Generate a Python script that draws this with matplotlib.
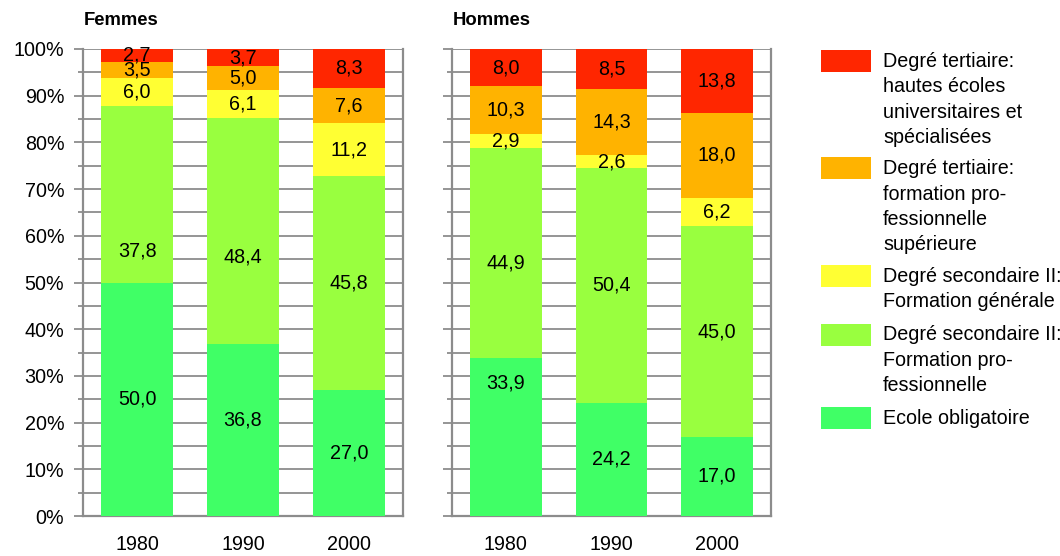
import numpy as np
import matplotlib.pyplot as plt
from matplotlib.patches import Rectangle

plt.rcParams['font.family'] = ['Liberation Sans', 'DejaVu Sans']

# data (bottom to top in each bar)
years = ['1980', '1990', '2000']
series = [
    'Ecole obligatoire',
    'Degré secondaire II:\nFormation pro-\nfessionnelle',
    'Degré secondaire II:\nFormation générale',
    'Degré tertiaire:\nformation pro-\nfessionnelle\nsupérieure',
    'Degré tertiaire:\nhautes écoles\nuniversitaires et\nspécialisées',
]
femmes_ecole = [50.0, 36.8, 27.0]
femmes_sec_prof = [37.8, 48.4, 45.8]
femmes_sec_gen = [6.0, 6.1, 11.2]
femmes_tert_prof = [3.5, 5.0, 7.6]
femmes_tert_univ = [2.7, 3.7, 8.3]

hommes_ecole = [33.9, 24.2, 17.0]
hommes_sec_prof = [44.9, 50.4, 45.0]
hommes_sec_gen = [2.9, 2.6, 6.2]
hommes_tert_prof = [10.3, 14.3, 18.0]
hommes_tert_univ = [8.0, 8.5, 13.8]

colors = ['#40ff66', '#99ff3f', '#ffff33', '#ffb300', '#ff2600']

# some labels in the original were moved off-centre (percentage points)
label_nudge = {
    ('F', 0, 1): -12.2,
    ('F', 1, 1): -5.5,
    ('F', 1, 0): 2.2,
    ('H', 0, 0): 11.5,
    ('H', 0, 1): -2.1,
}

W, H = 1060, 556
fig = plt.figure(figsize=(W / 100, H / 100), dpi=100)
grid_col = '#8c8c8c'
fs = 14.2


def draw_panel(ax, key, data, title):
    data = np.array(data)
    pct = data / data.sum(axis=0) * 100
    x = np.arange(len(years))
    bottom = np.zeros(len(years))
    for i in range(len(data)):
        ax.bar(x, pct[i], bottom=bottom, width=0.68, color=colors[i], zorder=3)
        for j in range(len(years)):
            y = bottom[j] + pct[i][j] / 2 + label_nudge.get((key, j, i), 0)
            ax.text(x[j], y, f'{data[i][j]:.1f}'.replace('.', ','),
                    ha='center', va='center', fontsize=fs, zorder=4)
        bottom += pct[i]
    ax.set_xlim(-0.51, 2.51)
    ax.set_ylim(0, 100)
    ax.set_xticks(x)
    ax.set_xticklabels(years, fontsize=fs)
    ax.set_yticks(np.arange(0, 101, 10))
    ax.set_yticks(np.arange(5, 100, 10), minor=True)
    ax.set_yticklabels([f'{v}%' for v in range(0, 101, 10)], fontsize=fs)
    ax.grid(axis='y', which='both', color=grid_col, lw=1.3, zorder=0)
    ax.set_axisbelow(True)
    ax.tick_params(axis='x', length=0, pad=14)
    ax.tick_params(axis='y', which='major', length=6.5, width=1.3,
                   color=grid_col, pad=7)
    ax.tick_params(axis='y', which='minor', length=3.6, width=1.3,
                   color=grid_col)
    ax.spines['top'].set_visible(False)
    for s in ['left', 'right', 'bottom']:
        ax.spines[s].set_color(grid_col)
        ax.spines[s].set_linewidth(1.6)
    fig.text(ax.get_position().x0 + 1 / W, 1 - 25 / H, title,
             fontsize=13.3, fontweight='bold', va='baseline')


ax1 = fig.add_axes([83 / W, 40 / H, 320 / W, 467 / H])
ax2 = fig.add_axes([452 / W, 40 / H, 319 / W, 467 / H])

draw_panel(ax1, 'F', [femmes_ecole, femmes_sec_prof, femmes_sec_gen,
                      femmes_tert_prof, femmes_tert_univ], 'Femmes')
draw_panel(ax2, 'H', [hommes_ecole, hommes_sec_prof, hommes_sec_gen,
                      hommes_tert_prof, hommes_tert_univ], 'Hommes')
ax2.tick_params(axis='y', labelleft=False)

# legend, drawn by hand, top entry = top segment
top = 50
line_h = 24.2
for name, col in zip(series[::-1], colors[::-1]):
    fig.add_artist(Rectangle((821 / W, 1 - (top + 22) / H), 50 / W, 22 / H,
                             transform=fig.transFigure, color=col, lw=0))
    fig.text(883 / W, 1 - (top + 2) / H, name, fontsize=fs, va='top',
             ha='left', linespacing=1.42)
    top += name.count('\n') * line_h + line_h + 10.5

fig.savefig('out.png', dpi=100)
